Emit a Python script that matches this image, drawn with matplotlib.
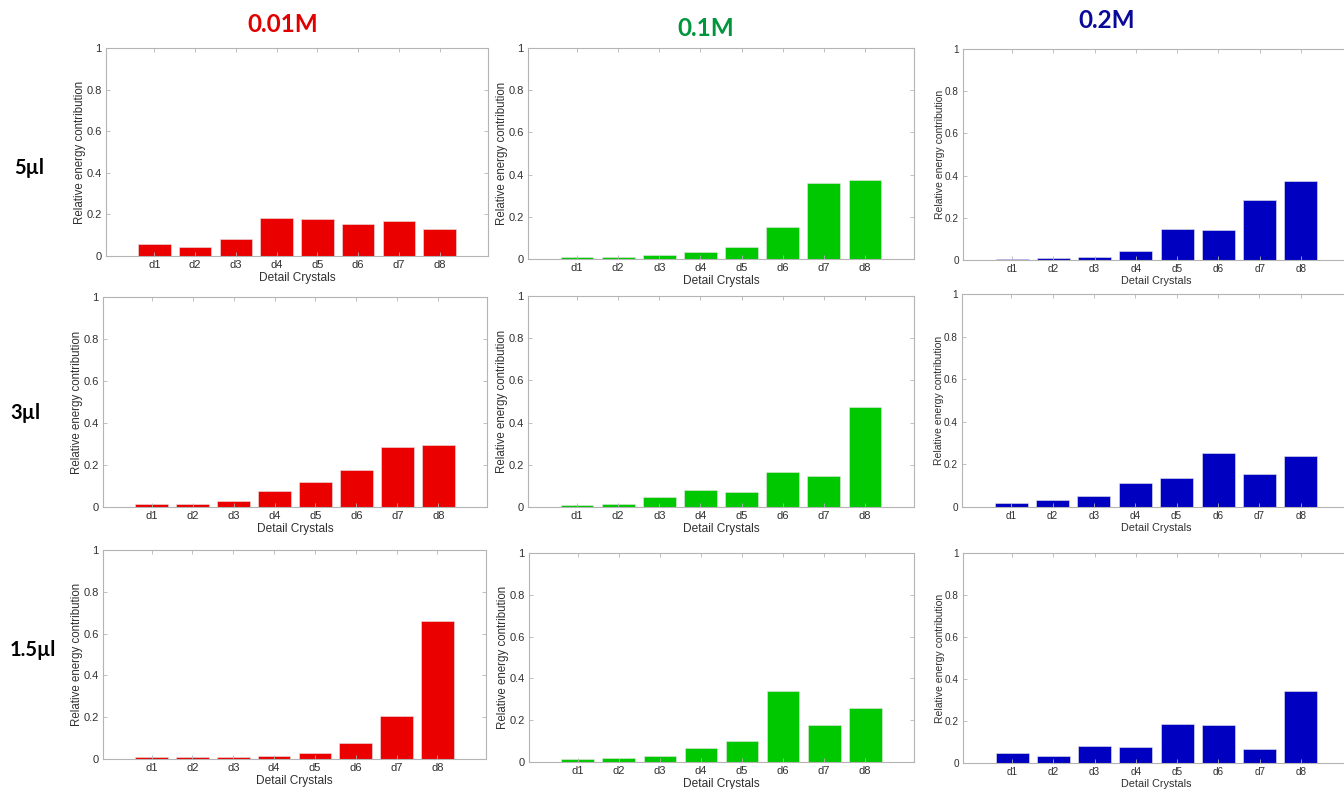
import numpy as np
import matplotlib.pyplot as plt
from matplotlib.ticker import FuncFormatter

plt.rcParams['font.family'] = ['Liberation Sans', 'DejaVu Sans']

# relative energy per detail level, one list per (volume, molarity) run
crystals = ['d1', 'd2', 'd3', 'd4', 'd5', 'd6', 'd7', 'd8']
molarities = ['0.01M', '0.1M', '0.2M']
volumes = ['5\u00b5l', '3\u00b5l', '1.5\u00b5l']

e_5ul_001 = [0.058, 0.045, 0.082, 0.181, 0.177, 0.152, 0.169, 0.132]
e_5ul_01 = [0.009, 0.009, 0.021, 0.032, 0.059, 0.153, 0.359, 0.373]
e_5ul_02 = [0.005, 0.008, 0.013, 0.041, 0.146, 0.141, 0.283, 0.373]

e_3ul_001 = [0.013, 0.014, 0.029, 0.075, 0.119, 0.176, 0.284, 0.295]
e_3ul_01 = [0.008, 0.013, 0.049, 0.082, 0.070, 0.166, 0.149, 0.473]
e_3ul_02 = [0.020, 0.031, 0.052, 0.111, 0.138, 0.254, 0.157, 0.239]

e_15ul_001 = [0.008, 0.008, 0.011, 0.016, 0.029, 0.076, 0.205, 0.658]
e_15ul_01 = [0.014, 0.019, 0.029, 0.065, 0.102, 0.338, 0.175, 0.260]
e_15ul_02 = [0.049, 0.032, 0.083, 0.078, 0.184, 0.179, 0.067, 0.343]

energy = [[e_5ul_001, e_5ul_01, e_5ul_02],
          [e_3ul_001, e_3ul_01, e_3ul_02],
          [e_15ul_001, e_15ul_01, e_15ul_02]]

bar_colors = ['#EB0000', '#00C800', '#0000C0']
head_colors = ['#E00000', '#00963C', '#0A0A9A']

W, H = 1344, 789
fig = plt.figure(figsize=(W / 100, H / 100), dpi=100)

# axes boxes in pixels: (left, right, top, bottom)
boxes = [[(106, 488, 48, 256), (528, 914, 48, 259), (963, 1350, 49, 260)],
         [(103, 487, 297, 507), (528, 914, 296, 507), (962, 1350, 294, 507)],
         [(103, 486, 550, 759), (529, 914, 553, 762), (963, 1350, 553, 763)]]

fmt = FuncFormatter(lambda v, p: '%g' % round(v, 1))
x = np.arange(1, len(crystals) + 1)

for r in range(3):
    for c in range(3):
        l, rr, t, b = boxes[r][c]
        ax = fig.add_axes([l / W, 1 - b / H, (rr - l) / W, (b - t) / H])
        ax.bar(x, energy[r][c], width=0.8, color=bar_colors[c],
               edgecolor='#e6e6e6', linewidth=0.4)
        ax.set_xlim(-0.19, 9.19)
        ax.set_ylim(0, 1)
        ax.set_xticks(x)
        ax.set_xticklabels(crystals)
        ax.set_yticks(np.arange(0, 1.01, 0.2))
        ax.yaxis.set_major_formatter(fmt)
        fs = 8 if c < 2 else 7.2
        ax.tick_params(direction='in', length=3, width=0.6, top=True, right=True,
                       colors='#b4b4b4', labelcolor='#303030', labelsize=fs, pad=3)
        for s in ax.spines.values():
            s.set_color('#b4b4b4')
            s.set_linewidth(0.8)
        ax.set_xlabel('Detail Crystals', fontsize=fs + 0.6, color='#303030', labelpad=1)
        ax.set_ylabel('Relative energy contribution', fontsize=fs + 0.3,
                      color='#303030', labelpad=0)

# column and row headings
head_x = [283, 706, 1107]
head_y = [24, 29, 21]
for c in range(3):
    fig.text(head_x[c] / W, 1 - head_y[c] / H, molarities[c], color=head_colors[c],
             fontsize=17.5, fontweight='bold', family=['Lato', 'DejaVu Sans'],
             ha='center', va='center')

row_y = [168, 413, 650]
row_x = [14, 10, 10]
for r in range(3):
    fig.text(row_x[r] / W, 1 - row_y[r] / H, volumes[r], color='black',
             fontsize=14.5, fontweight='bold', family=['Lato', 'DejaVu Sans'],
             ha='left', va='center')

fig.savefig('out.png', dpi=100)
